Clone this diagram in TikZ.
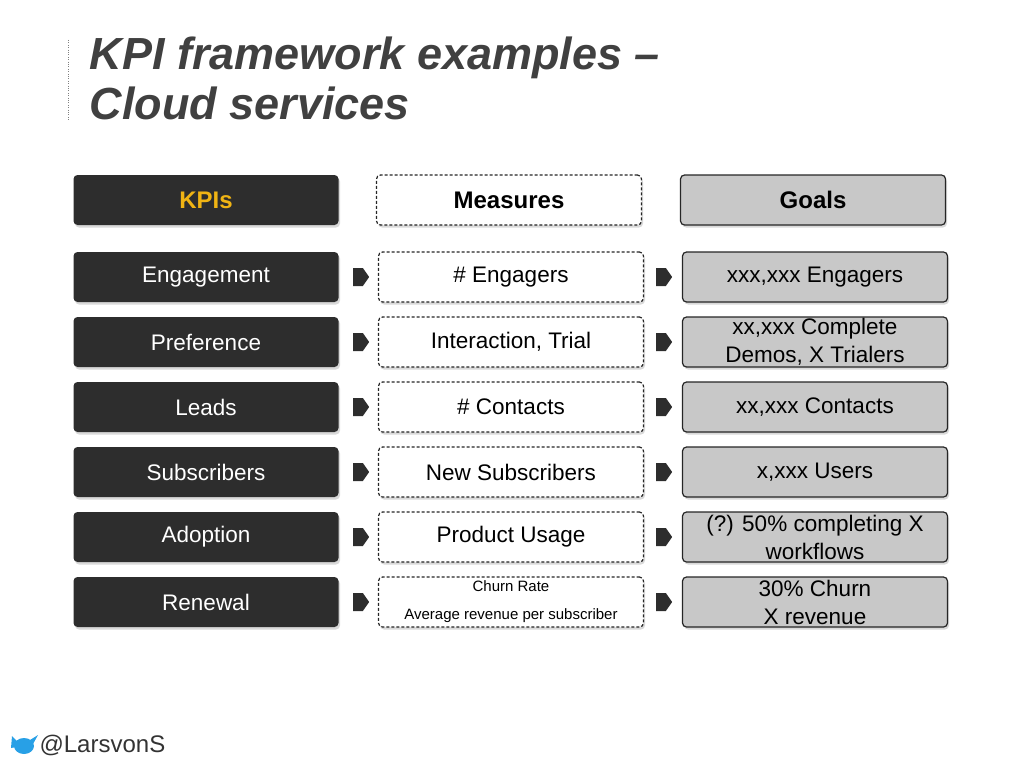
\documentclass[tikz,border=0pt]{standalone}
\usepackage{fontspec}
\setmainfont{Liberation Sans}
\usetikzlibrary{shapes.arrows,shadows}
\definecolor{kpidark}{RGB}{45,45,45}
\definecolor{goalgray}{RGB}{200,200,200}
\definecolor{kpiyellow}{RGB}{240,180,20}
\definecolor{twblue}{RGB}{40,160,230}
\begin{document}
\begin{tikzpicture}[x=1pt,y=-1pt,
        box/.style={rounded corners=4pt,minimum width=265pt,minimum height=50pt,
          inner sep=1pt,align=center,font=\fontsize{22.5}{28}\selectfont,line width=1.2pt,
          drop shadow={shadow xshift=1.5pt,shadow yshift=-2.5pt,opacity=.3}},
        kpi/.style={box,fill=kpidark,text=white},
        meas/.style={box,draw=black!85,dash pattern=on 3pt off 2pt,fill=white},
        goal/.style={box,draw=black!85,fill=goalgray},
        head/.style={font=\fontsize{24}{28}\selectfont\bfseries},
        pointer/.style={single arrow,fill=kpidark,minimum height=16pt,
          minimum width=18pt,single arrow head extend=0pt,single arrow tip angle=110,
          inner sep=0pt}
      ]
      \useasboundingbox (0,0) rectangle (1024,768);
      \draw [dotted,gray] (68,40) -- (68,120);
      \node [anchor=west,font=\fontsize{45}{50}\selectfont\bfseries\itshape,
        text=black!75,align=left] (title) at (86,78) {KPI framework examples --\\Cloud services};
      % header row
      \node [kpi,head,text=kpiyellow] (kh) at (206,200) {KPIs};
      \node [meas,head] (mh) at (509,200) {Measures};
      \node [goal,head] (gh) at (813,200) {Goals};
      % rows
      \foreach \i/\y/\k/\m/\g in {
          1/277/Engagement/\# Engagers/{xxx,xxx Engagers},
          2/342/Preference/{Interaction, Trial}/{xx,xxx Complete\\Demos, X Trialers},
          3/407/Leads/\# Contacts/{xx,xxx Contacts},
          4/472/Subscribers/New Subscribers/{x,xxx Users},
          5/537/Adoption/Product Usage/{(?) 50\% completing X\\workflows},
          6/602/Renewal/{\fontsize{15}{20}\selectfont Churn Rate\\\fontsize{15}{20}\selectfont Average revenue per subscriber}/{30\% Churn\\X revenue}} {
        \node [kpi] (k\i) at (206,\y) {\k};
        \node [meas] (m\i) at (511,\y) {\m};
        \node [goal] (g\i) at (815,\y) {\g};
        \node [pointer] (a\i) at (358,\y) {};
        \node [pointer] (b\i) at (661,\y) {};
      }
      % footer
      \fill [twblue] (24,746) ellipse [x radius=10, y radius=8];
      \fill [twblue] (12,736) -- (11,748) -- (22,746) -- cycle;
      \fill [twblue] (30,740) -- (38,735) -- (33,744) -- cycle;
      \node [anchor=west,font=\fontsize{24}{28}\selectfont,text=black!80] (tw) at (36,745) {@LarsvonS};
    \end{tikzpicture}
\end{document}
